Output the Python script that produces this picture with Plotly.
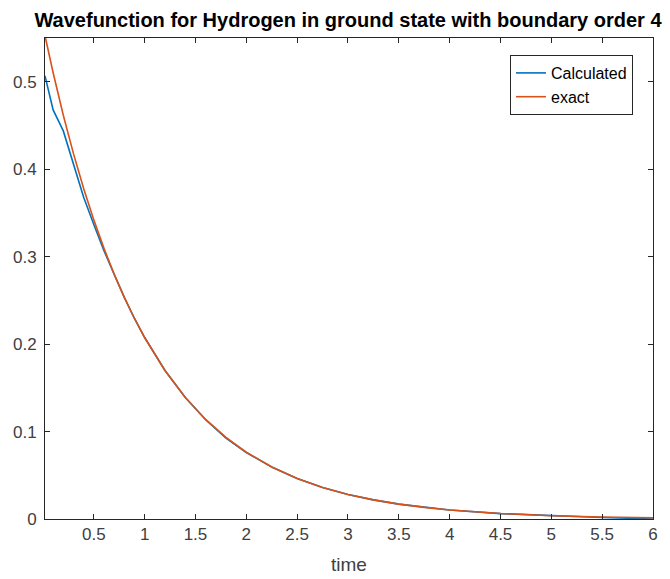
import plotly.graph_objects as go

x_vals = [0.02, 0.1, 0.2, 0.3, 0.4, 0.5, 0.6, 0.7, 0.8, 0.9, 1.0, 1.2, 1.4, 1.6, 1.8, 2.0,
          2.25, 2.5, 2.75, 3.0, 3.25, 3.5, 3.75, 4.0, 4.5, 5.0, 5.5, 6.0]
exact = [0.553, 0.5105, 0.4619, 0.4180, 0.3782, 0.3422, 0.3096, 0.2802, 0.2535, 0.2294,
         0.2076, 0.1699, 0.1391, 0.1139, 0.0933, 0.0764, 0.0595, 0.0463, 0.0361, 0.0281,
         0.0219, 0.0170, 0.0133, 0.0103, 0.0063, 0.0038, 0.0023, 0.0014]
calc = [0.507, 0.468, 0.444, 0.405, 0.368, 0.337, 0.307, 0.280, 0.2535, 0.2294,
        0.2076, 0.1699, 0.1391, 0.1135, 0.0925, 0.0760, 0.0595, 0.0463, 0.0361, 0.0281,
        0.0219, 0.0170, 0.0133, 0.0103, 0.0062, 0.0036, 0.0018, 0.0]

x_ticks = [0.5, 1, 1.5, 2, 2.5, 3, 3.5, 4, 4.5, 5, 5.5, 6]
x_tick_text = ["0.5", "1", "1.5", "2", "2.5", "3", "3.5", "4", "4.5", "5", "5.5", "6"]
y_ticks = [0, 0.1, 0.2, 0.3, 0.4, 0.5]
y_tick_text = ["0", "0.1", "0.2", "0.3", "0.4", "0.5"]

FONT = "Liberation Sans, Arial"

fig = go.Figure()
fig.add_trace(go.Scatter(x=x_vals, y=calc, mode="lines", name="Calculated",
                         line=dict(color="#0072BD", width=1.6)))
fig.add_trace(go.Scatter(x=x_vals, y=exact, mode="lines", name="exact",
                         line=dict(color="#D95319", width=1.6)))

axis_common = dict(showgrid=False, zeroline=False, showline=True, linecolor="#262626",
                   linewidth=1, mirror="ticks", ticks="inside", ticklen=5,
                   tickcolor="#262626", tickfont=dict(family=FONT, size=17, color="#404040"),
                   automargin=False)

fig.update_layout(
    width=670, height=579,
    margin=dict(l=45, r=17, t=38, b=60),
    paper_bgcolor="white", plot_bgcolor="white",
    title=dict(text="<b>Wavefunction for Hydrogen in ground state with boundary order 4</b>",
               x=348 / 670, xanchor="center", y=1 - 20 / 579, yanchor="middle",
               font=dict(family=FONT, size=20, color="black")),
    xaxis=dict(range=[0.02, 6], tickvals=x_ticks, ticktext=x_tick_text,
               title=dict(text="time", font=dict(family=FONT, size=19, color="#404040"), standoff=14),
               **axis_common),
    yaxis=dict(range=[0, 0.5503], tickvals=y_ticks, ticktext=y_tick_text, ticklabelstandoff=4,
               **axis_common),
    legend=dict(x=(633 - 45) / 608, y=(519 - 55) / 481, xanchor="right", yanchor="top",
                bordercolor="#262626", borderwidth=1, bgcolor="white",
                font=dict(family=FONT, size=16, color="black"),
                tracegroupgap=0),
    showlegend=True,
)

fig.write_html("out.html")
